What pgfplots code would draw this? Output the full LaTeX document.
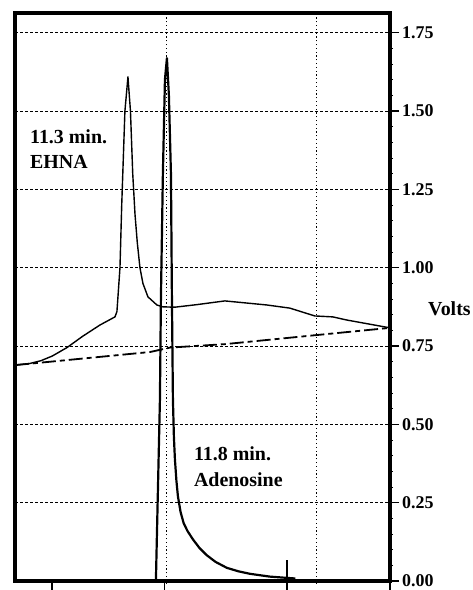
\documentclass[border=0pt]{standalone}
\usepackage{fontspec}
\setmainfont{Liberation Serif}
\usepackage{pgfplots}
\pgfplotsset{compat=1.18}

% EHNA detector trace (solid), volts vs. retention time (min)
\newcommand{\ehnatrace}{%
(9.810,0.689) (9.836,0.690) (10.000,0.694) (10.150,0.703) (10.300,0.718)
(10.494,0.745) (10.700,0.781) (10.928,0.817) (11.126,0.843) (11.152,0.860)
(11.192,1.000) (11.215,1.200) (11.257,1.500) (11.297,1.609) (11.330,1.500)
(11.360,1.300) (11.390,1.170) (11.420,1.080) (11.455,1.000) (11.494,0.950)
(11.560,0.907) (11.678,0.881) (11.757,0.875) (11.915,0.874) (12.200,0.882)
(12.573,0.894) (13.126,0.881) (13.428,0.871) (13.757,0.846) (13.994,0.843)
(14.178,0.833) (14.747,0.808)}

% Adenosine trace (heavy line)
\newcommand{\adotrace}{%
(11.665,0.000) (11.718,0.580) (11.731,0.900) (11.757,1.300) (11.784,1.600)
(11.810,1.669) (11.836,1.550) (11.863,1.300) (11.876,0.900) (11.889,0.580)
(11.902,0.460) (11.915,0.390) (11.935,0.320) (11.955,0.270) (11.990,0.220)
(12.030,0.185) (12.080,0.160) (12.152,0.133) (12.240,0.105) (12.336,0.082)
(12.450,0.061) (12.599,0.042) (12.750,0.031) (12.902,0.023) (13.165,0.014)
(13.500,0.008)}

% Baseline (dashed)
\newcommand{\basetrace}{%
(9.810,0.689) (11.590,0.731) (11.850,0.745) (12.573,0.756) (13.780,0.785)
(14.747,0.808)}

\begin{document}
\begin{tikzpicture}
\useasboundingbox (-15bp,-9bp) rectangle (458bp,581bp);
\begin{axis}[
  scale only axis,
  width=375bp, height=568bp,
  xmin=9.81, xmax=14.747,
  ymin=0, ymax=1.813,
  clip=false,
  axis line style={black, line width=3.5bp},
  xtick={10.3,11.78,13.39,14.747},
  xticklabels={},
  xtick pos=left,
  extra x ticks={13.39},
  extra x tick labels={},
  extra x tick style={tick align=inside, major tick length=21bp},
  minor xtick={11.8,13.78},
  xminorgrids,
  ytick={0,0.25,0.5,0.75,1,1.25,1.5,1.75},
  ytick pos=right,
  yticklabel pos=right,
  ymajorgrids,
  minor y tick num=4,
  tick align=outside,
  major tick length=9bp,
  minor tick length=3bp,
  major tick style={black, line width=1.5bp},
  minor tick style={black, line width=0.8bp},
  major grid style={black, line width=0.8bp, dash pattern=on 3bp off 2bp},
  minor grid style={black, line width=0.8bp, dash pattern=on 1.2bp off 2.6bp},
  yticklabel style={font=\bfseries\fontsize{18}{18}\selectfont, inner xsep=3bp},
  /pgf/number format/.cd, fixed, fixed zerofill, precision=2, assume math mode=true,
]
\addplot[black, line width=1.4bp, line join=round] coordinates {\ehnatrace};
\addplot[black, line width=1.8bp, dash pattern=on 14bp off 4bp on 5bp off 4bp] coordinates {\basetrace};
\addplot[black, line width=2.2bp, line join=round] coordinates {\adotrace};

\node[anchor=base west, inner sep=0, font=\bfseries\fontsize{20}{20}\selectfont]
  at (axis cs:10.007,1.398) {11.3 min.};
\node[anchor=base west, inner sep=0, font=\bfseries\fontsize{20}{20}\selectfont]
  at (axis cs:10.007,1.318) {EHNA};
\node[anchor=base west, inner sep=0, font=\bfseries\fontsize{20}{20}\selectfont]
  at (axis cs:12.165,0.386) {11.8 min.};
\node[anchor=base west, inner sep=0, font=\bfseries\fontsize{20}{20}\selectfont]
  at (axis cs:12.165,0.303) {Adenosine};
\node[anchor=west, inner sep=0, xshift=38bp, font=\bfseries\fontsize{20}{20}\selectfont]
  at (rel axis cs:1,0.48) {Volts};
\end{axis}
\end{tikzpicture}
\end{document}
